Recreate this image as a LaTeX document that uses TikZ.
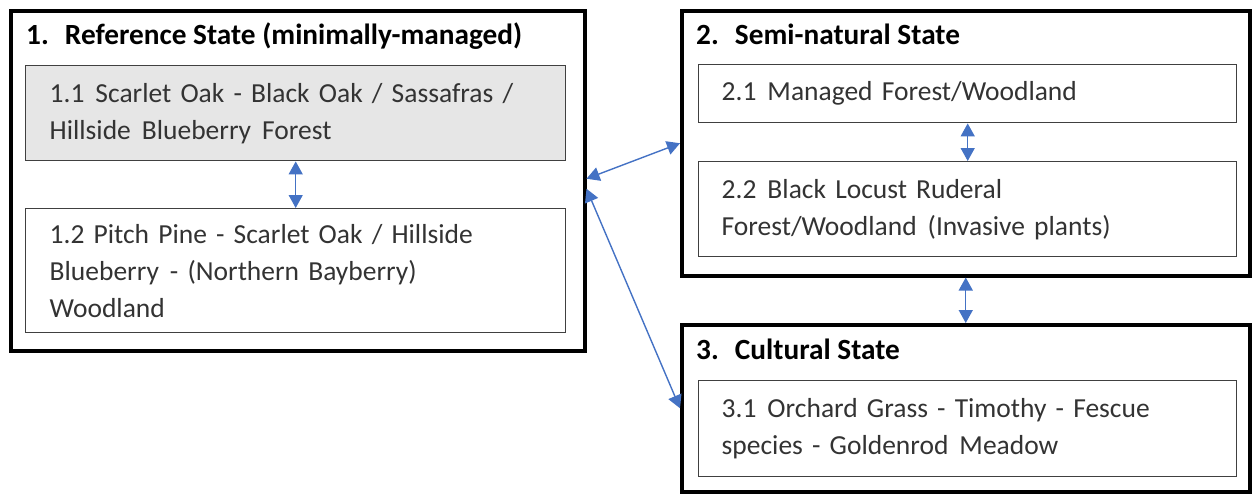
\documentclass[tikz,border=0pt]{standalone}
\usepackage{fontspec}
\setmainfont{Carlito}
\usetikzlibrary{arrows.meta}
\definecolor{linkblue}{HTML}{4472C4}
\definecolor{boxgray}{HTML}{E6E6E6}
\definecolor{textgray}{HTML}{333333}

\tikzset{
    statebox/.style={draw=black, line width=3.5pt, anchor=north west, inner sep=0pt},
    statetitle/.style={anchor=base west, inner sep=0pt, font=\fontsize{29.3}{32}\selectfont\bfseries},
    phasebox/.style={draw=black!75, line width=1.4pt, anchor=north west, inner xsep=23pt,
        inner ysep=0pt, text width=492pt, align=left, text=textgray,
        font=\fontsize{27.5}{37}\selectfont},
    trans/.style={draw=linkblue, line width=1.4pt, {Triangle[length=13pt,width=14pt]}-{Triangle[length=13pt,width=14pt]}}
}

\begin{document}
\begin{tikzpicture}[x=1pt,y=-1pt]
    \useasboundingbox (0,0) rectangle (1254,496);

    % Draw the three state frames
    \node[statebox, minimum width=574pt, minimum height=340pt] (s1) at (9,9) {};
    \node[statebox, minimum width=568pt, minimum height=265pt] (s2) at (680,9) {};
    \node[statebox, minimum width=568pt, minimum height=167pt] (s3) at (680,323) {};

    % State titles
    \node[statetitle] (t1) at (26,44) {1.\hspace{0.55em}Reference State (minimally-managed)};
    \node[statetitle] (t2) at (696,44) {2.\hspace{0.55em}Semi-natural State};
    \node[statetitle] (t3) at (696,359) {3.\hspace{0.55em}Cultural State};

    % Community phases
    \node[phasebox, fill=boxgray, minimum width=540pt, minimum height=95pt] (p11) at (25,65)
        {1.1\hspace{0.4em}Scarlet Oak - Black Oak / Sassafras /\\Hillside\hspace{0.4em}Blueberry\hspace{0.4em}Forest};
    \node[phasebox, minimum width=540pt, minimum height=124pt] (p12) at (25,208)
        {1.2 Pitch Pine - Scarlet Oak / Hillside\\Blueberry\hspace{0.4em}- (Northern Bayberry)\\Woodland};
    \node[phasebox, minimum width=538pt, minimum height=58pt] (p21) at (698,64)
        {2.1\hspace{0.4em}Managed Forest/Woodland};
    \node[phasebox, minimum width=538pt, minimum height=95pt] (p22) at (698,161)
        {2.2\hspace{0.4em}Black Locust Ruderal\\Forest/Woodland\hspace{0.4em}(Invasive plants)};
    \node[phasebox, minimum width=538pt, minimum height=96pt] (p31) at (698,380)
        {3.1\hspace{0.4em}Orchard Grass - Timothy - Fescue\\species - Goldenrod\hspace{0.4em}Meadow};

    % Transitions
    \draw[trans] (p11) -- (p12);
    \draw[trans] (p21) -- (p22);
    \draw[trans] (s2) -- (s3);
    \draw[trans] ([yshift=2pt]s1.east) -- (s2.west);
    \draw[trans] ([yshift=-8pt]s1.east) -- (s3.west);
\end{tikzpicture}
\end{document}
